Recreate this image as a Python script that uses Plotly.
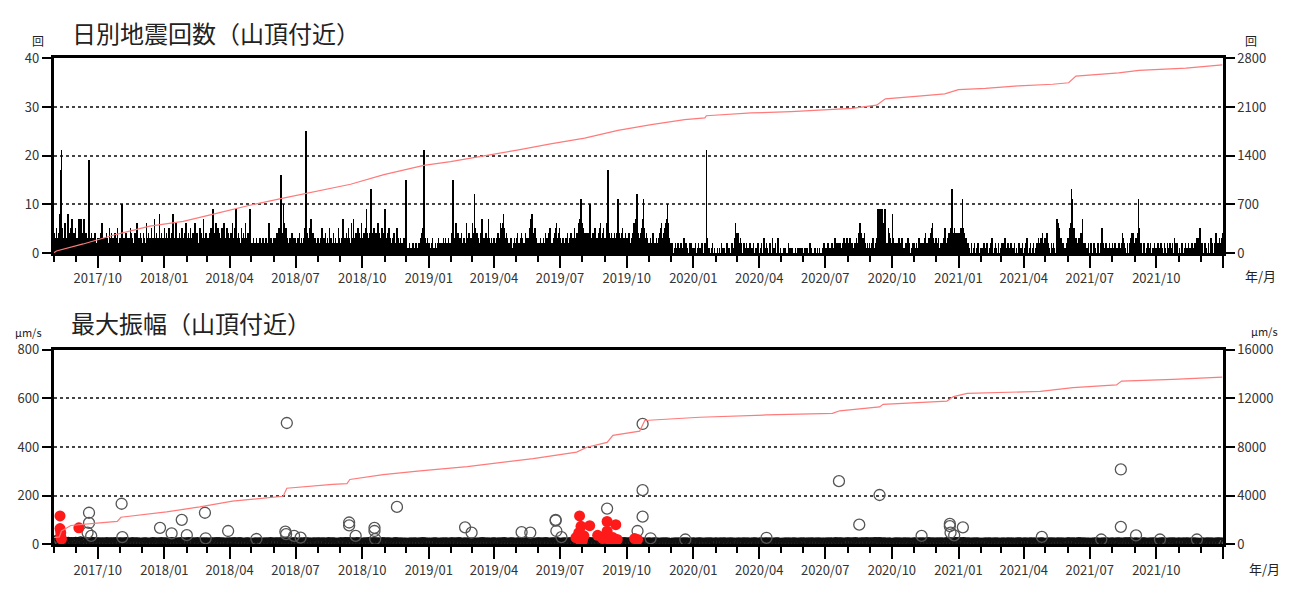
import plotly.graph_objects as go
import pandas as pd

# ---------------- data ----------------
# daily earthquake counts, one character per day (base 36: 0-9, a=10 ... p=25)
COUNTS = {
    "2017-08": "432531438h" "l532462358" "34257324352",
    "2017-09": "3247527342" "7324324j32" "4231243213",
    "2017-10": "2314263213" "2431253241" "32142352132",
    "2017-11": "3a42312432" "1325423124" "2362132432",
    "2017-12": "2431263241" "3252317234" "23183242315",
    "2018-01": "3241352324" "2832463213" "42352314263",
    "2018-02": "2432531423" "6234213524" "32732413",
    "2018-03": "3243524932" "4623524315" "32642352432",
    "2018-04": "2436235493" "2431253243" "2632435942",
    "2018-05": "2132123122" "1321231213" "21262132123",
    "2018-06": "231432534g" "43a6325321" "2312421323",
    "2018-07": "2132421321" "325p643253" "73242132123",
    "2018-08": "2132521324" "1232152312" "42132125321",
    "2018-09": "2372132432" "5321623723" "4235243263",
    "2018-10": "3423594324" "3d43253242" "36243253249",
    "2018-11": "6324352321" "3242135232" "13221323f2",
    "2018-12": "1012101121" "0121102132" "453l4321321",
    "2019-01": "2112310121" "1231210213" "21321231212",
    "2019-02": "4f53263242" "1324123122" "63242132",
    "2019-03": "634c534231" "2437423124" "23732132123",
    "2019-04": "2132412365" "4685324321" "2132112312",
    "2019-05": "3421232432" "1242312357" "58734523212",
    "2019-06": "2132123124" "2312453212" "3245632453",
    "2019-07": "2123121324" "2132412325" "32432674b63",
    "2019-08": "534234234a" "5324325123" "24356324532",
    "2019-09": "346h843243" "2342345b43" "2345232432",
    "2019-10": "3243213456" "437c643245" "47b53243212",
    "2019-11": "2312432123" "1234256324" "3567a63212",
    "2019-12": "1200121002" "1002100310" "20100212010",
    "2020-01": "1020012010" "1200121l31" "01001200100",
    "2020-02": "0100100201" "1000200110" "020013624",
    "2020-03": "3421320012" "1020100201" "01200100200",
    "2020-04": "0120030012" "1001200310" "1200130010",
    "2020-05": "0010100002" "0100100001" "00100100100",
    "2020-06": "0100100020" "1000010010" "0100001201",
    "2020-07": "1002010120" "0130120121" "20120321031",
    "2020-08": "2030120121" "2302456432" "30420120121",
    "2020-09": "1203012034" "9949699569" "3202543212",
    "2020-10": "8320202103" "1203010120" "23020012021",
    "2020-11": "1020130202" "1203420213" "2435632023",
    "2020-12": "2030120203" "2502130435" "3d435432434",
    "2021-01": "3454b53423" "2020100200" "12001020010",
    "2021-02": "1002100210" "0120320012" "10020012",
    "2021-03": "1202300120" "0120010200" "10020010200",
    "2021-04": "1203200120" "0120010203" "2103042030",
    "2021-05": "2402100201" "2100276352" "30120010203",
    "2021-06": "3456db4532" "3202302437" "2020010200",
    "2021-07": "1200120100" "2100235200" "12001020102",
    "2021-08": "1002100120" "0124302100" "20023243420",
    "2021-09": "2304b52020" "0120010200" "1200102100",
    "2021-10": "1200120100" "2100201020" "12003202100",
    "2021-11": "1002100120" "1020100200" "1202320352",
    "2021-12": "1200120100" "2003120012" "43202302342",
}

# cumulative count (right axis of the upper panel)
TOP_CUM_DATES = ["2017-08-01", "2017-08-05", "2017-09-11", "2017-10-27", "2017-12-12",
                 "2018-01-27", "2018-03-14", "2018-04-29", "2018-06-14", "2018-07-31",
                 "2018-09-15", "2018-10-31", "2018-12-16", "2018-12-25", "2019-01-31",
                 "2019-03-18", "2019-05-03", "2019-06-18", "2019-08-04", "2019-09-19",
                 "2019-11-04", "2019-12-20", "2020-01-17", "2020-01-19", "2020-03-21",
                 "2020-05-15", "2020-08-07", "2020-09-10", "2020-09-22", "2020-11-07",
                 "2020-12-13", "2021-01-01", "2021-02-07", "2021-03-25", "2021-05-11",
                 "2021-06-02", "2021-06-12", "2021-08-10", "2021-09-07", "2021-11-11",
                 "2021-12-31"]
TOP_CUM_VALUES = [0, 28, 130, 269, 386, 455, 571, 687, 790, 896,
                  989, 1128, 1230, 1260, 1314, 1393, 1480, 1570, 1653, 1765,
                  1848, 1918, 1945, 1975, 2015, 2034, 2080, 2127, 2219, 2257,
                  2289, 2350, 2370, 2406, 2428, 2450, 2545, 2591, 2628, 2661,
                  2707]

# small-amplitude events forming the dense band near zero, one every 2 days,
# stored in half-um/s units (base 36 characters)
BAND_UNIT = 0.5
BAND = {
    "2017-08": "k8ua9c7e8bg6d9cf", "2017-09": "ce8kb9fc7d9g8bc", "2017-10": "9c7ba8d6c9b7e8a9",
    "2017-11": "b8c7e9a6d8b9c7a", "2017-12": "8b9c6a7d9b8c6e9a",
    "2018-01": "9c8b7e9a8c6d9b7c", "2018-02": "8d9b7c6e8a9c7b", "2018-03": "a8c9b7d8e6c9a8b7",
    "2018-04": "9b8d7c9e8a6c9b8", "2018-05": "7a8c6b9a7c8b6d9a", "2018-06": "8c9b7ea8d9c7b8e",
    "2018-07": "9a8c7b9d6c8a9b7c", "2018-08": "8b7c9a8d7b9c6a8b", "2018-09": "9c8eb9d8ca7e9c8",
    "2018-10": "a9c8d9b7e8c9a8d9", "2018-11": "8b9c7a8d9b6c8a9", "2018-12": "7a8b6c9a7b8d9c8a",
    "2019-01": "8a7c9b6a8c7b9a8c", "2019-02": "9b8c7d9a8b6c9a", "2019-03": "8c9a7b8d9c6b8a9c",
    "2019-04": "9a8c7b9d8a6c9b8", "2019-05": "8b9c7a8d9b7c8a9b", "2019-06": "9c8b7d9a8c9b7e8",
    "2019-07": "8a9c7b8d9c8eb9dc", "2019-08": "c9d8eb9c8d9b8c9a", "2019-09": "b9c8d9ba8c9b8d9",
    "2019-10": "9b8c9a8d7c9b8a7c", "2019-11": "8a7c9b6a8c7b9a8", "2019-12": "7a8b6c7a9b8c6a7b",
    "2020-01": "8a7b9c6a8b7c9a6b", "2020-02": "7a8b6c9a7b8c6a7", "2020-03": "8b7a9c6b8a7c9b6a",
    "2020-04": "7b8a9c6b7a8c9b6", "2020-05": "8a7b6c8a9b7a6c8b", "2020-06": "7a8c6b9a7c8b6a9",
    "2020-07": "8b7c9a8d7b9c8a9b", "2020-08": "9c8b7d9a8c9b7e8a", "2020-09": "9b8dc9eb8c9a7b8",
    "2020-10": "8a9b7c8a9b6c8a7b", "2020-11": "9a8c7b9a8d9b7c8", "2020-12": "9b8c9a8dc9eb9dcb",
    "2021-01": "cb9dc8b9a8c7b9a8", "2021-02": "7a8b6c9a7b8c6a", "2021-03": "8b7a9c6b8a7c9b6a",
    "2021-04": "7b8a9c6b7a8c9b6", "2021-05": "8a9b7c8a9b6c8a7b", "2021-06": "9b8c9a8d9c7b8a9",
    "2021-07": "8a7b9c6a8b7c9a8b", "2021-08": "7a8b9c8a9bc8d9a8", "2021-09": "9b8a7c9b6a8c7b9",
    "2021-10": "8a7b9c6a8b7c9a6b", "2021-11": "7a8b6c9a7b8c6a7", "2021-12": "8b7a9c6b8a7c9b8a",
}

# larger events (open circles), um/s
OPEN_DATES = ["2017-09-17", "2017-09-19", "2017-09-19", "2017-09-22", "2017-11-03", "2017-11-04",
              "2017-12-26", "2018-01-11", "2018-01-25", "2018-02-01", "2018-02-26", "2018-02-27",
              "2018-03-30", "2018-05-08", "2018-06-17", "2018-06-18", "2018-06-19", "2018-06-29",
              "2018-07-08", "2018-09-13", "2018-09-13", "2018-09-22", "2018-10-18", "2018-10-18",
              "2018-10-19", "2018-11-18", "2019-02-20", "2019-03-01", "2019-05-09", "2019-05-21",
              "2019-06-25", "2019-06-25", "2019-06-26", "2019-07-03", "2019-09-04", "2019-10-16",
              "2019-10-23", "2019-10-23", "2019-10-23", "2019-11-03", "2019-12-21", "2020-04-11",
              "2020-07-20", "2020-08-17", "2020-09-14", "2020-11-11", "2020-12-20", "2020-12-20",
              "2020-12-21", "2020-12-26", "2021-01-07", "2021-04-26", "2021-07-17", "2021-08-13",
              "2021-08-13", "2021-09-03", "2021-10-06", "2021-11-26"]
OPEN_AMPS = [48, 130, 88, 35, 167, 30,
             68, 45, 101, 38, 130, 25,
             55, 22, 52, 42, 499, 35,
             28, 90, 78, 35, 68, 55,
             22, 154, 70, 48, 50, 48,
             101, 98, 55, 30, 147, 55,
             495, 223, 114, 25, 20, 27,
             260, 81, 203, 35, 84, 75,
             48, 37, 70, 31, 20, 308,
             72, 37, 20, 20]

# filled red events, um/s
RED_DATES = ["2017-08-10", "2017-08-10", "2017-08-11", "2017-08-11", "2017-08-12", "2017-09-05",
             "2019-07-23", "2019-07-26", "2019-07-27", "2019-07-28", "2019-07-28", "2019-07-30",
             "2019-08-01", "2019-08-03", "2019-08-11", "2019-08-22", "2019-08-29", "2019-09-01",
             "2019-09-04", "2019-09-04", "2019-09-08", "2019-09-12", "2019-09-16", "2019-09-18",
             "2019-10-12", "2019-10-16"]
RED_AMPS = [117, 65, 48, 32, 22, 68,
            28, 35, 48, 117, 20, 74,
            15, 35, 77, 37, 24, 30,
            94, 54, 15, 28, 81, 20,
            24, 20]

# cumulative amplitude (right axis of the lower panel)
BOT_CUM_DATES = ["2017-08-01", "2017-08-09", "2017-08-12", "2017-08-25", "2017-09-30",
                 "2017-10-28", "2017-11-02", "2018-01-04", "2018-02-19", "2018-04-05",
                 "2018-06-14", "2018-06-19", "2018-08-21", "2018-09-10", "2018-09-14",
                 "2018-10-30", "2018-12-20", "2019-02-23", "2019-05-25", "2019-07-24",
                 "2019-08-07", "2019-09-04", "2019-09-12", "2019-10-19", "2019-10-26",
                 "2020-01-10", "2020-04-11", "2020-07-11", "2020-07-21", "2020-09-14",
                 "2020-09-19", "2020-12-16", "2020-12-25", "2021-01-13", "2021-04-24",
                 "2021-06-08", "2021-08-07", "2021-08-14", "2021-10-24", "2021-12-31"]
BOT_CUM_VALUES = [560, 620, 1100, 1550, 1751, 1884, 2229, 2680, 3078, 3555,
                  3954, 4617, 4935, 4988, 5333, 5731, 6050, 6394, 7058, 7588,
                  7986, 8384, 8968, 9313, 10189, 10454, 10640, 10772, 10985, 11303,
                  11515, 11781, 12152, 12418, 12577, 12896, 13108, 13427, 13560, 13746]

X_RANGE = ["2017-08-01", "2022-01-01"]
MAJOR_TICKS = ["2017-10-01", "2018-01-01", "2018-04-01", "2018-07-01", "2018-10-01",
               "2019-01-01", "2019-04-01", "2019-07-01", "2019-10-01", "2020-01-01",
               "2020-04-01", "2020-07-01", "2020-10-01", "2021-01-01", "2021-04-01",
               "2021-07-01", "2021-10-01", "2022-01-01"]
MAJOR_LABELS = ["2017/10", "2018/01", "2018/04", "2018/07", "2018/10",
                "2019/01", "2019/04", "2019/07", "2019/10", "2020/01",
                "2020/04", "2020/07", "2020/10", "2021/01", "2021/04",
                "2021/07", "2021/10", ""]

# ---------------- decode ----------------
bar_x, bar_y = [], []
for ym, s in COUNTS.items():
    start = pd.Timestamp(ym + "-01")
    for i, ch in enumerate(s[:start.days_in_month]):
        bar_x.append(start + pd.Timedelta(days=i, hours=12))
        bar_y.append(int(ch, 36))

band_x, band_y = [], []
for ym, s in BAND.items():
    start = pd.Timestamp(ym + "-01")
    for i, ch in enumerate(s):
        d = 2 * i
        if d < start.days_in_month:
            band_x.append(start + pd.Timedelta(days=d, hours=12))
            band_y.append(int(ch, 36) * BAND_UNIT)

# ---------------- figure ----------------
W, H = 1295, 595
FONT = "Noto Sans CJK JP"
X0, X1 = 53.5 / W, 1223 / W
TOP_DOM = [1 - 251 / H, 1 - 50 / H]
BOT_DOM = [1 - 552 / H, 1 - 351 / H]
PINK = "#ff7a7a"

fig = go.Figure()
fig.add_trace(go.Bar(x=bar_x, y=bar_y, width=86400000 * 0.75,
                     marker=dict(color="#000000", line=dict(width=0)),
                     xaxis="x", yaxis="y", showlegend=False))
fig.add_trace(go.Scatter(x=TOP_CUM_DATES, y=TOP_CUM_VALUES, mode="lines",
                         line=dict(color=PINK, width=1.2),
                         xaxis="x", yaxis="y2", showlegend=False))

fig.add_trace(go.Scatter(x=band_x, y=band_y, mode="markers",
                         marker=dict(symbol="circle-open", size=10, color="#111111",
                                     line=dict(width=1.4)),
                         xaxis="x2", yaxis="y3", showlegend=False))
fig.add_trace(go.Scatter(x=OPEN_DATES, y=OPEN_AMPS, mode="markers",
                         marker=dict(symbol="circle-open", size=11, color="#555555",
                                     line=dict(width=1.3)),
                         xaxis="x2", yaxis="y3", showlegend=False))
fig.add_trace(go.Scatter(x=RED_DATES, y=RED_AMPS, mode="markers",
                         marker=dict(symbol="circle", size=11, color="#ff1a1a",
                                     line=dict(width=0)),
                         xaxis="x2", yaxis="y3", showlegend=False))
fig.add_trace(go.Scatter(x=BOT_CUM_DATES, y=BOT_CUM_VALUES, mode="lines",
                         line=dict(color=PINK, width=1.2),
                         xaxis="x2", yaxis="y4", showlegend=False))

tickfont = dict(family=FONT, size=13, color="#333333")


def xax(anchor):
    return dict(domain=[X0, X1], anchor=anchor, type="date", range=X_RANGE,
                showline=True, linecolor="black", linewidth=2.5, mirror=True,
                ticks="outside", ticklen=12, tickwidth=2, tickcolor="black",
                tickmode="array", tickvals=MAJOR_TICKS, ticktext=MAJOR_LABELS,
                minor=dict(ticks="outside", ticklen=6, tickwidth=1.5, tickcolor="black",
                           dtick="M1", tick0="2017-08-01", showgrid=False),
                showgrid=False, zeroline=False, tickfont=tickfont, fixedrange=True)


def yleft(dom, anchor, rng, dtick):
    return dict(domain=dom, anchor=anchor, range=rng, dtick=dtick, tick0=0,
                showline=True, linecolor="black", linewidth=2.5, mirror=True,
                ticks="outside", ticklen=9, tickwidth=1.5, tickcolor="black",
                showgrid=True, gridcolor="#444444", griddash="dot", gridwidth=1.5,
                zeroline=False, tickfont=tickfont, fixedrange=True)


def yright(anchor, over, rng, dtick):
    return dict(anchor=anchor, overlaying=over, side="right", range=rng, dtick=dtick,
                tick0=0, tickformat="d", showline=True, linecolor="black", linewidth=2.5,
                ticks="outside", ticklen=9, tickwidth=1.5, tickcolor="black",
                showgrid=False, zeroline=False, tickfont=tickfont, fixedrange=True)


fig.update_layout(
    width=W, height=H, autosize=False,
    margin=dict(l=0, r=0, t=0, b=0, pad=0),
    paper_bgcolor="white", plot_bgcolor="white",
    bargap=0, showlegend=False,
    xaxis=xax("y"),
    yaxis=yleft(TOP_DOM, "x", [0, 40], 10),
    yaxis2=yright("x", "y", [0, 2800], 700),
    xaxis2=xax("y3"),
    yaxis3=yleft(BOT_DOM, "x2", [0, 800], 200),
    yaxis4=yright("x2", "y3", [0, 16000], 4000),
)

ann_font = dict(family=FONT, color="#222222")
annotations = [
    dict(text="日別地震回数（山頂付近）", x=70 / W, y=1 - 23 / H, size=24, anchor="left"),
    dict(text="最大振幅（山頂付近）", x=69 / W, y=1 - 323 / H, size=24, anchor="left"),
    dict(text="回", x=38 / W, y=1 - 32 / H, size=12, anchor="center"),
    dict(text="回", x=1251 / W, y=1 - 32 / H, size=12, anchor="center"),
    dict(text="年/月", x=1260 / W, y=1 - 274 / H, size=13, anchor="center"),
    dict(text="年/月", x=1264 / W, y=1 - 577 / H, size=13, anchor="center"),
    dict(text="μm/s", x=28 / W, y=1 - 333 / H, size=11, anchor="center"),
    dict(text="μm/s", x=1264 / W, y=1 - 332 / H, size=11, anchor="center"),
]
for a in annotations:
    fig.add_annotation(text=a["text"], x=a["x"], y=a["y"], xref="paper", yref="paper",
                       xanchor=a["anchor"], yanchor="middle", showarrow=False,
                       font=dict(size=a["size"], **ann_font))

fig.write_html("out.html", config={"displayModeBar": False},
               post_script="document.body.style.margin='0';document.body.style.overflow='hidden';")
